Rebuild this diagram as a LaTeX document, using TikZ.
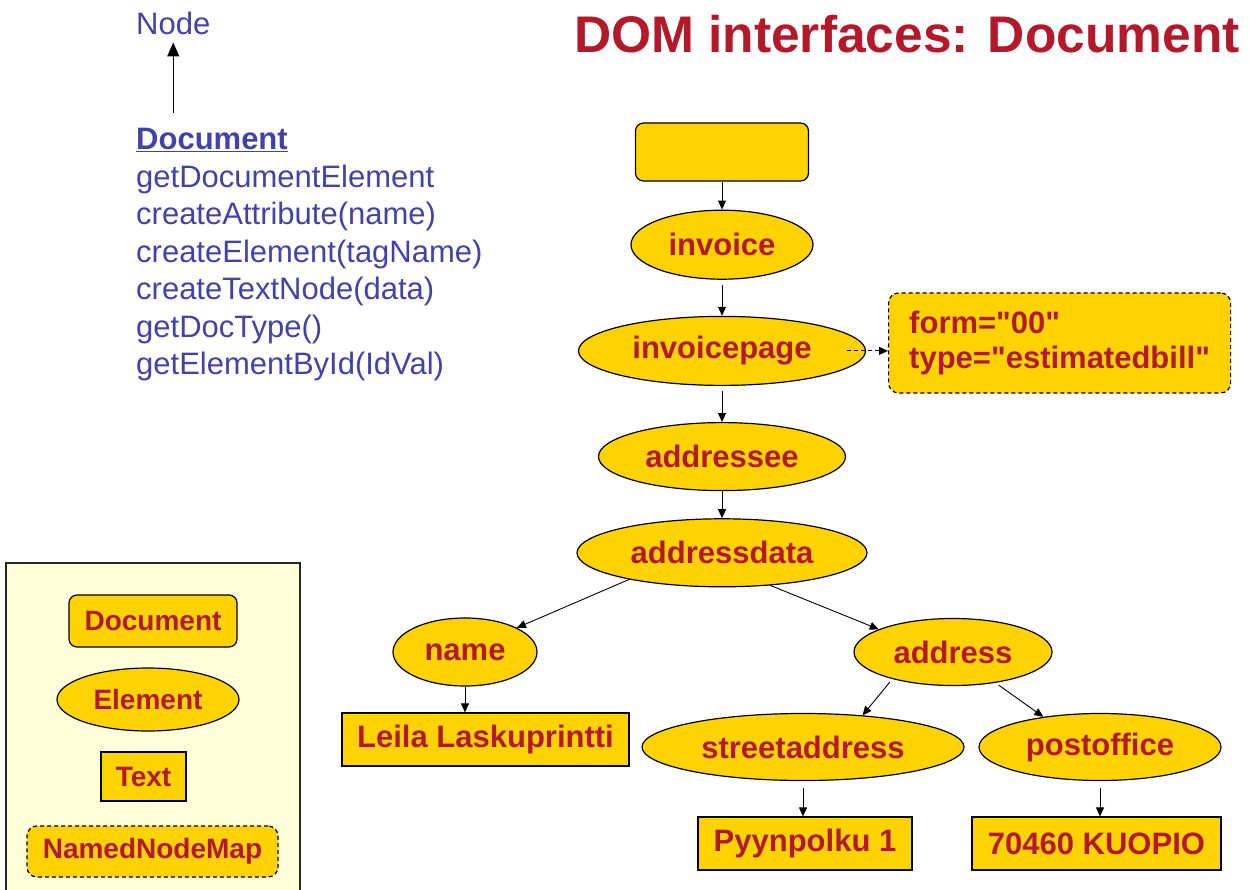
\documentclass[tikz,border=0pt]{standalone}
\usepackage{fontspec}
\setmainfont{Liberation Sans}[Ligatures=TeXOff]
\usetikzlibrary{positioning, arrows.meta, shapes.geometric}
\definecolor{domred}{RGB}{178,26,44}
\definecolor{domblue}{RGB}{66,66,170}
\definecolor{domyellow}{RGB}{255,210,0}
\definecolor{legendbg}{RGB}{255,255,220}

\begin{document}
\begin{tikzpicture}[x=1pt, y=-1pt,
     node distance = 28pt and 28pt,
                  > = {Triangle[length=9pt, width=8pt]},
        tree/.style = {draw, line width=1.2pt, fill=domyellow, text=domred, inner sep=0pt,
                       font=\fontsize{31}{35}\selectfont\bfseries},
      docbox/.style = {tree, rectangle, rounded corners=8pt},
        elem/.style = {tree, ellipse},
         txt/.style = {tree, rectangle},
      mapbox/.style = {tree, rectangle, rounded corners=10pt, dash pattern=on 4pt off 3pt},
       small/.style = {font=\fontsize{28}{32}\selectfont\bfseries},
        link/.style = {->, line width=0.9pt},
         api/.style = {text=domblue, inner sep=0pt, font=\fontsize{31}{37.5}\selectfont}
                        ]
\useasboundingbox (0,0) rectangle (1249,890);

% legend frame
\fill[legendbg] (6,563) rectangle (300,890);
\draw[line width=1.2pt, black!85] (6,890) -- (6,563) -- (300,563) -- (300,890);

\node (title)[anchor=base east, text=domred, inner sep=0pt,
              font=\fontsize{51.5}{56}\selectfont\bfseries] at (1240,53) {DOM interfaces: Document};

\node (nodelbl)[api, anchor=base west] at (136,35) {Node};
\node (docapi) [api, anchor=north west, align=left] at (136,128)
  {\textbf{\underline{Document}}\\getDocumentElement\\createAttribute(name)\\createElement(tagName)\\
   createTextNode(data)\\getDocType()\\getElementById(IdVal)};
\draw[-{Triangle[length=14pt, width=12pt]}, line width=1pt]
  ([yshift=15pt]nodelbl.south |- docapi.north) -- ([yshift=-7pt]nodelbl.south);

% tree
\node (root)     [docbox, minimum width=173pt, minimum height=58pt] at (722,152) {};
\node (invoice)  [elem, minimum width=182pt, minimum height=69pt, below=28pt of root] {invoice};
\node (invpage)  [elem, minimum width=287pt, minimum height=69pt, below=36pt of invoice] {invoicepage};
\node (addressee)[elem, minimum width=247pt, minimum height=68pt, below=36pt of invpage] {addressee};
\node (addrdata) [elem, minimum width=290pt, minimum height=68pt, below=27pt of addressee] {addressdata};
\node (attrs)    [mapbox, minimum width=342pt, minimum height=100pt, align=left, anchor=west,
                  inner xsep=18pt] at (888,343) {form="00"\\type="estimatedbill"};
\node (name)     [elem, minimum width=144pt, minimum height=68pt] at (465,652) {name};
\node (address)  [elem, minimum width=198pt, minimum height=67pt] at (953,652) {address};
\node (leila)    [txt, minimum width=287pt, minimum height=53pt] at (485.5,739.5) {Leila Laskuprintti};
\node (street)   [elem, minimum width=322pt, minimum height=67pt] at (803,747) {streetaddress};
\node (postoff)  [elem, minimum width=242pt, minimum height=67pt] at (1100,747) {postoffice};
\node (pyyn)     [txt, minimum width=214pt, minimum height=53pt] at (805,843.5) {Pyynpolku 1};
\node (kuopio)   [txt, minimum width=249pt, minimum height=53pt] at (1096.5,843.5) {70460 KUOPIO};

\draw[link] (root) -- (invoice);
\draw[link, shorten <=5pt] (invoice) -- (invpage);
\draw[link, shorten <=5pt] (invpage) -- (addressee);
\draw[link] (addressee) -- (addrdata);
\draw[link, dash pattern=on 4pt off 3pt] ([xshift=-19pt]invpage.east) -- (invpage.east -| attrs.west);
\draw[link] (addrdata.196) -- (name.25);
\draw[link] (addrdata.326) -- (address.163);
\draw[link] (name.south) -- (leila.north -| name.south);
\draw[link, shorten <=4pt] (address.204) -- (street.28);
\draw[link, shorten <=4pt] (address.324) -- (postoff.152);
\draw[link, shorten <=7pt] (street.south) -- (street.south |- pyyn.north);
\draw[link, shorten <=7pt] (postoff.south) -- (postoff.south |- kuopio.north);

% legend
\node (lgdoc) [docbox, small, minimum width=168pt, minimum height=52pt] at (153,621) {Document};
\node (lgelem)[elem, small, minimum width=182pt, minimum height=63pt] at (148,699.5) {Element};
\node (lgtext)[txt, small, minimum width=85pt, minimum height=49pt] at (143.5,776.5) {Text};
\node (lgmap) [mapbox, small, minimum width=251pt, minimum height=51pt] at (152.5,851.5) {NamedNodeMap};
\end{tikzpicture}
\end{document}
